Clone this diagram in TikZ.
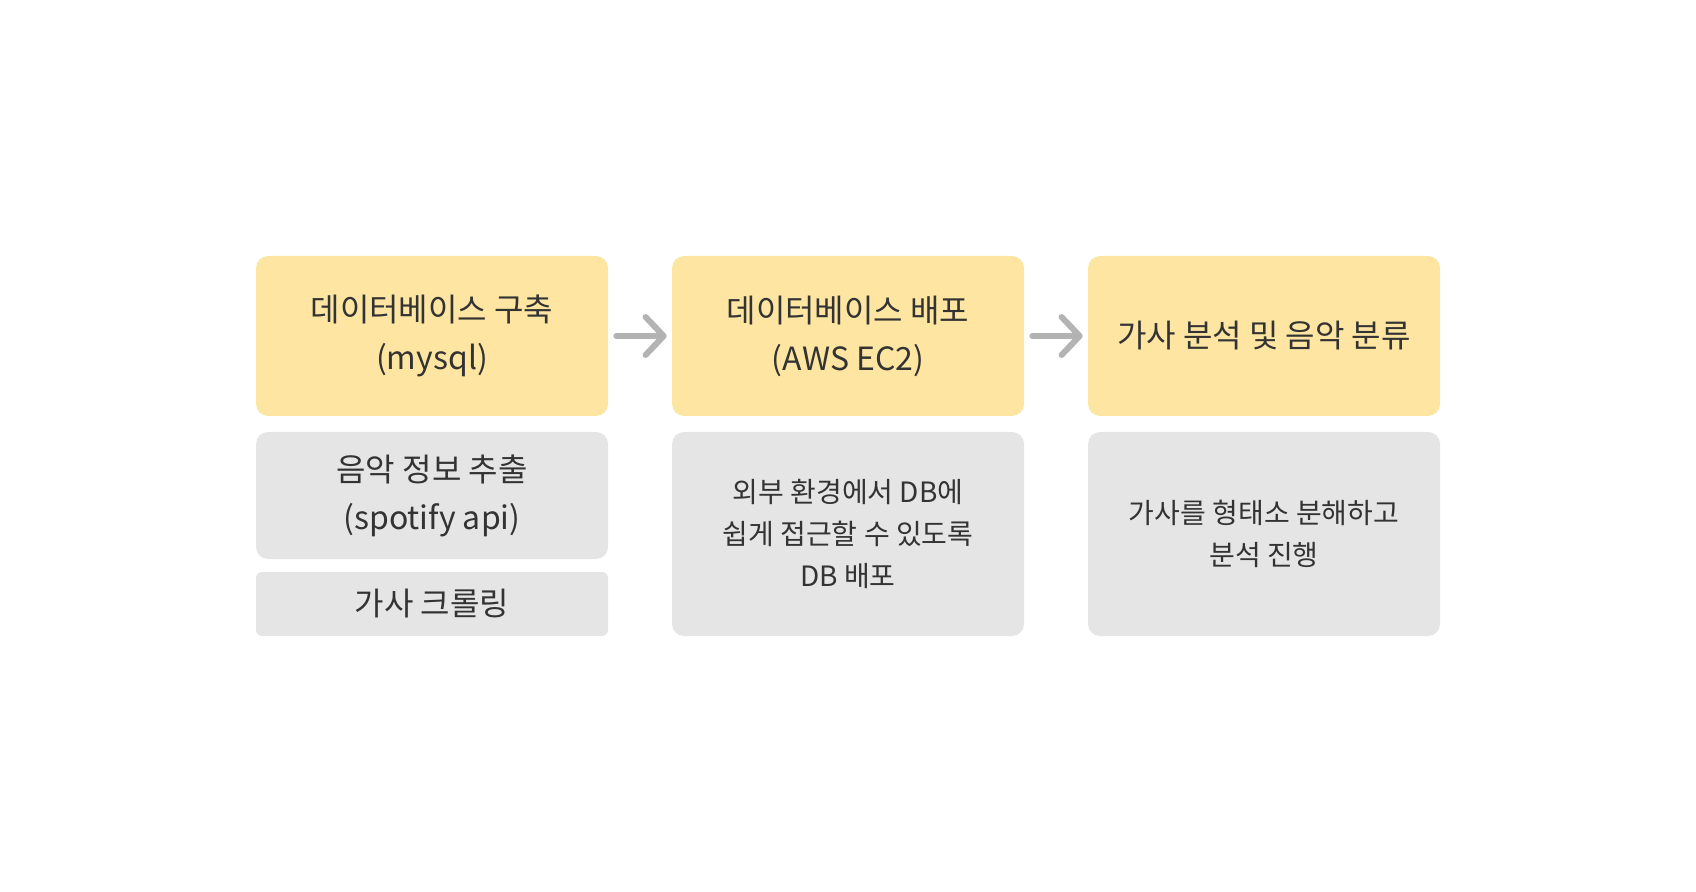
\documentclass[tikz,border=0pt]{standalone}
\usepackage{fontspec}
\newfontfamily\krfont{Noto Sans CJK KR}
\usetikzlibrary{arrows.meta,positioning}
\definecolor{stepyellow}{HTML}{FEE6A2}
\definecolor{notegray}{HTML}{E5E5E5}
\definecolor{flowgray}{HTML}{B3B3B3}
\definecolor{inkdark}{HTML}{333333}

\begin{document}
\begin{tikzpicture}[x=0.5pt,y=-0.5pt,
every node/.style={inner sep=0pt,align=center,text=inkdark},
stepbox/.style={fill=stepyellow,rounded corners=6pt,minimum width=176pt,
  minimum height=80pt,font=\krfont\fontsize{16}{24}\selectfont},
notebox/.style={fill=notegray,rounded corners=6pt,minimum width=176pt,
  font=\krfont\fontsize{16}{24}\selectfont},
smallnote/.style={notebox,font=\krfont\fontsize{14}{21}\selectfont},
flow/.style={draw=flowgray,line width=3pt,line cap=round,
  -{Straight Barb[length=9pt,width=19pt,round]},
  shorten <=4pt,shorten >=2.5pt}]
\useasboundingbox (0,0) rectangle (1696,892);
% yellow steps
\node[stepbox] (build) at (432,336) {데이터베이스 구축\\(mysql)};
\node[stepbox] (deploy) at (848,336) {데이터베이스 배포\\(AWS EC2)};
\node[stepbox] (lyrics) at (1264,336) {가사 분석 및 음악 분류};
% gray notes
\node[notebox,minimum height=63.5pt] (spotify) at (432,495.5) {음악 정보 추출\\(spotify api)};
\node[notebox,minimum height=32pt,rounded corners=3pt] (crawl) at (432,604) {가사 크롤링};
\node[smallnote,minimum height=102pt] (access) at (848,534) {외부 환경에서 DB에\\쉽게 접근할 수 있도록\\DB 배포};
\node[smallnote,minimum height=102pt] (morph) at (1264,534) {가사를 형태소 분해하고\\분석 진행};
\draw[flow] (build)--(deploy);
\draw[flow] (deploy)--(lyrics);
\end{tikzpicture}
\end{document}
